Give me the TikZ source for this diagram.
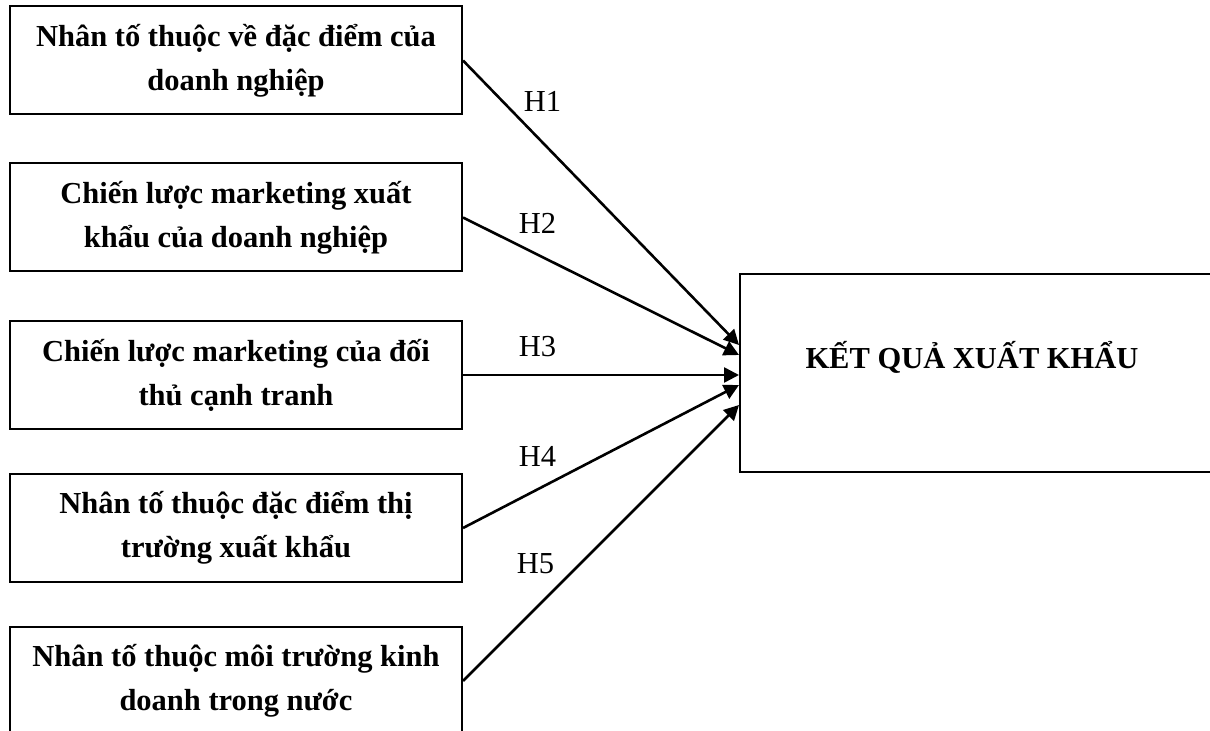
\documentclass[tikz,border=0pt]{standalone}
\usepackage{fontspec}
\setmainfont{Liberation Serif}
\usetikzlibrary{arrows.meta, positioning}
\tikzset{basic/.style={draw, line width=1pt}}
\tikzset{factor/.style={basic, rectangle, minimum width=226pt, minimum height=54pt, align=center, font=\fontsize{15.25}{22}\selectfont\bfseries}}
\tikzset{outcome/.style={basic, rectangle, minimum width=237.5pt, minimum height=99pt}}
\tikzset{>={Triangle[length=7.5pt, width=7.5pt]}, font=\fontsize{15.25}{22}\selectfont}

\begin{document}
\begin{tikzpicture}[x=0.5pt, y=0.5pt, line width=1.3pt]

    \useasboundingbox (0,0) rectangle (1210,-731);

    \node[factor] (f1) at (236,-60.5) {Nhân tố thuộc về đặc điểm của\\doanh nghiệp};
    \node[factor, below=23.5pt of f1] (f2) {Chiến lược marketing xuất\\khẩu của doanh nghiệp};
    \node[factor, below=23.75pt of f2] (f3) {Chiến lược marketing của đối\\thủ cạnh tranh};
    \node[factor, below=21.5pt of f3] (f4) {Nhân tố thuộc đặc điểm thị\\trường xuất khẩu};
    \node[factor, below=21.5pt of f4] (f5) {Nhân tố thuộc môi trường kinh\\doanh trong nước};

    \node[outcome, label={[name=kqtext, xshift=-2.75pt, yshift=8pt]center:\textbf{KẾT QUẢ XUẤT KHẨU}}] (kq) at (977.5,-373) {};

    \draw[->](f1.east) to node[pos=0.288, yshift=20.7pt] {H1} ([yshift=14pt]kq.west);
    \draw[->](f2.east) to node[pos=0.27, yshift=15.6pt] {H2} ([yshift=9pt]kq.west);
    \draw[->](f3.east) to node[pos=0.27, yshift=14.25pt] {H3} (f3.east -| kq.west);
    \draw[->](f4.east) to node[pos=0.27, yshift=16.7pt] {H4} ([yshift=-6pt]kq.west);
    \draw[->](f5.east) to node[pos=0.263, yshift=22.2pt] {H5} ([yshift=-16pt]kq.west);

\end{tikzpicture}
\end{document}
